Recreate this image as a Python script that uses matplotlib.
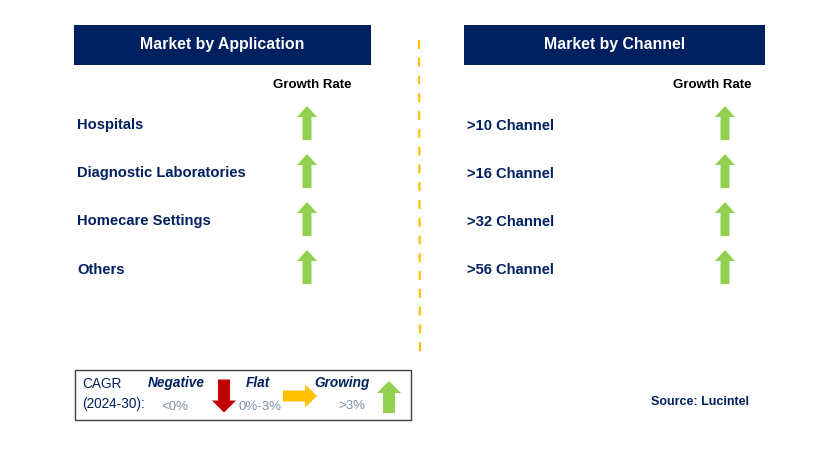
import numpy as np
import matplotlib
matplotlib.use('Agg')
import matplotlib.pyplot as plt
from matplotlib.patches import Rectangle, Polygon

plt.rcParams['font.family'] = ['Liberation Sans', 'DejaVu Sans']

# data
left_title = 'Market by Application'
left_items = ['Hospitals', 'Diagnostic Laboratories', 'Homecare Settings', 'Others']
left_trend = ['up', 'up', 'up', 'up']
right_title = 'Market by Channel'
right_items = ['>10 Channel', '>16 Channel', '>32 Channel', '>56 Channel']
right_trend = ['up', 'up', 'up', 'up']

navy = '#002060'
green = '#92D050'
red = '#C00000'
amber = '#FFC000'

colors = {'up': green, 'down': red, 'right': amber}


def arrow(ax, cx, cy, direction, length=34, shaft=9, head=20, head_len=11):
    # arrow shape pointing up (pixel coords, y down), then flipped/rotated
    h = length / 2
    pts = np.array([
        [-shaft / 2, h], [-shaft / 2, -h + head_len], [-head / 2, -h + head_len],
        [0, -h], [head / 2, -h + head_len], [shaft / 2, -h + head_len], [shaft / 2, h]
    ])
    if direction == 'down':
        pts[:, 1] = -pts[:, 1]
    elif direction == 'right':
        pts = np.column_stack([-pts[:, 1], pts[:, 0]])
    ax.add_patch(Polygon(pts + [cx, cy], closed=True, facecolor=colors[direction],
                         edgecolor='none'))


fig = plt.figure(figsize=(8.29, 4.66), dpi=100)
ax = fig.add_axes([0, 0, 1, 1])
ax.set_xlim(0, 829)
ax.set_ylim(466, 0)
ax.axis('off')

row_y = [124, 172, 220, 268]


def panel(x0, x1, title, items, trend, label_x, arrow_x, gr_x):
    ax.add_patch(Rectangle((x0, 25), x1 - x0, 40, facecolor=navy, edgecolor='none'))
    ax.text((x0 + x1) / 2, 45, title, color='white', fontsize=11.4, fontweight='bold',
            ha='center', va='center')
    ax.text(gr_x, 85, 'Growth Rate', color='black', fontsize=9.5, ha='center',
            va='center', fontweight='semibold')
    for y, name, t in zip(row_y, items, trend):
        ax.text(label_x, y + 1.5, name, color=navy, fontsize=10.6, fontweight='bold',
                ha='left', va='center')
        arrow(ax, arrow_x, y - 1, t)


panel(74, 371, left_title, left_items, left_trend, 77, 307, 312)
panel(464, 765, right_title, right_items, right_trend, 467, 725, 712)

# divider
ax.plot([419, 420], [40, 355], color=amber, lw=1.6, dashes=(4, 4))

# legend box
ax.add_patch(Rectangle((75, 370), 336, 50, facecolor='white', edgecolor='#404040', lw=1))
ax.text(82, 384, 'CAGR', color=navy, fontsize=9.8, ha='left', va='center')
ax.text(82, 404, '(2024-30):', color=navy, fontsize=9.8, ha='left', va='center')
ax.text(176, 383, 'Negative', color=navy, fontsize=9.8, fontweight='bold',
        style='italic', ha='center', va='center')
ax.text(175, 407, '<0%', color='#7F8FA9', fontsize=9.5, ha='center', va='center')
arrow(ax, 224, 396, 'down', length=33, shaft=12, head=24, head_len=12)
ax.text(258, 383, 'Flat', color=navy, fontsize=9.8, fontweight='bold',
        style='italic', ha='center', va='center')
ax.text(260, 407, '0%-3%', color='#7F8FA9', fontsize=9.5, ha='center', va='center')
arrow(ax, 300, 396, 'right', length=34, shaft=11, head=23, head_len=12)
ax.text(342, 383, 'Growing', color=navy, fontsize=9.8, fontweight='bold',
        style='italic', ha='center', va='center')
ax.text(352, 406, '>3%', color='#7F8FA9', fontsize=9.5, ha='center', va='center')
arrow(ax, 389, 397, 'up', length=32, shaft=12, head=24, head_len=12)

ax.text(700, 402, 'Source: Lucintel', color=navy, fontsize=9, fontweight='bold',
        ha='center', va='center')

fig.savefig('out.png', dpi=100)
